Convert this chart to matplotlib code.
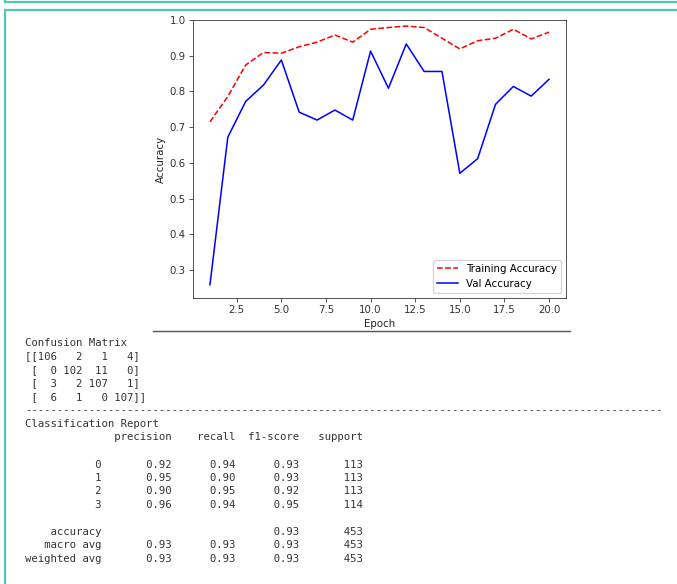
import numpy as np
import matplotlib
matplotlib.use("Agg")
import matplotlib.pyplot as plt
from matplotlib.lines import Line2D

# training history
epochs = list(range(1, 21))
train_acc = [0.715, 0.786, 0.874, 0.909, 0.907, 0.925, 0.938, 0.958, 0.938, 0.974,
             0.979, 0.983, 0.979, 0.949, 0.919, 0.942, 0.949, 0.974, 0.947, 0.966]
val_acc = [0.259, 0.672, 0.772, 0.818, 0.888, 0.742, 0.720, 0.748, 0.720, 0.913,
           0.809, 0.933, 0.856, 0.856, 0.571, 0.612, 0.764, 0.814, 0.787, 0.834]

# printed results
conf_matrix = [[106, 2, 1, 4],
               [0, 102, 11, 0],
               [3, 2, 107, 1],
               [6, 1, 0, 107]]
class_names = ["0", "1", "2", "3"]
precision = [0.92, 0.95, 0.90, 0.96]
recall = [0.94, 0.90, 0.95, 0.94]
f1 = [0.93, 0.93, 0.92, 0.95]
support = [113, 113, 113, 114]
accuracy = 0.93
macro_avg = [0.93, 0.93, 0.93]
weighted_avg = [0.93, 0.93, 0.93]
total = 453

W, H = 677, 584
fig = plt.figure(figsize=(W / 100, H / 100), dpi=100)

# notebook cell frame
teal = "#4fc9b3"
fig.add_artist(Line2D([5 / W, 1], [1 - 1.5 / H, 1 - 1.5 / H], color=teal, lw=1.6))
fig.add_artist(Line2D([5 / W, 5 / W], [1, 1 - 1.5 / H], color=teal, lw=1.6))
fig.add_artist(Line2D([5 / W, 1], [1 - 10 / H, 1 - 10 / H], color=teal, lw=1.6))
fig.add_artist(Line2D([5.5 / W, 5.5 / W], [0, 1 - 10 / H], color=teal, lw=1.6))
# grey rule under the figure image
fig.add_artist(Line2D([153 / W, 570 / W], [1 - 331 / H, 1 - 331 / H], color="#555555", lw=1.0))

s = 0.74
ax = fig.add_axes([193 / W, 1 - 298 / H, 373 / W, 278 / H])
ax.plot(epochs, train_acc, "r--", lw=1.5 * s, label="Training Accuracy")
ax.plot(epochs, val_acc, "b-", lw=1.5 * s, label="Val Accuracy")
ax.set_ylim(0.222, 1.0)
ax.set_xlabel("Epoch", fontsize=10 * s, labelpad=4 * s, color="#222222")
ax.set_ylabel("Accuracy", fontsize=10 * s, labelpad=4 * s, color="#222222")
ax.tick_params(labelsize=10 * s, length=3.5 * s, width=0.8 * s, pad=3.5 * s,
               colors="#333333")
for sp in ax.spines.values():
    sp.set_linewidth(0.8 * s)
    sp.set_color("#333333")
ax.legend(loc="lower right", fontsize=10 * s)

# text output below the chart
cm_text = str(np.array(conf_matrix)).split("\n")
lines = ["Confusion Matrix"] + cm_text + ["-" * 100, "Classification Report"]
width = 12
lines.append(" " * width + " " + "".join(f" {h:>9}" for h in ["precision", "recall", "f1-score", "support"]))
lines.append("")
for name, p, r, f, n in zip(class_names, precision, recall, f1, support):
    lines.append(f"{name:>{width}s}  {p:>9.2f} {r:>9.2f} {f:>9.2f} {n:>9}")
lines.append("")
lines.append(f"{'accuracy':>{width}s}  {'':>9} {'':>9} {accuracy:>9.2f} {total:>9}")
lines.append(f"{'macro avg':>{width}s}  {macro_avg[0]:>9.2f} {macro_avg[1]:>9.2f} {macro_avg[2]:>9.2f} {total:>9}")
lines.append(f"{'weighted avg':>{width}s}  {weighted_avg[0]:>9.2f} {weighted_avg[1]:>9.2f} {weighted_avg[2]:>9.2f} {total:>9}")

y0, step = 343, 13.5
for i, line in enumerate(lines):
    fig.text(25 / W, 1 - (y0 + i * step) / H, line, family="DejaVu Sans Mono",
             fontsize=7.7, color="#333333", va="center", ha="left")

fig.savefig("out.png", dpi=100)
